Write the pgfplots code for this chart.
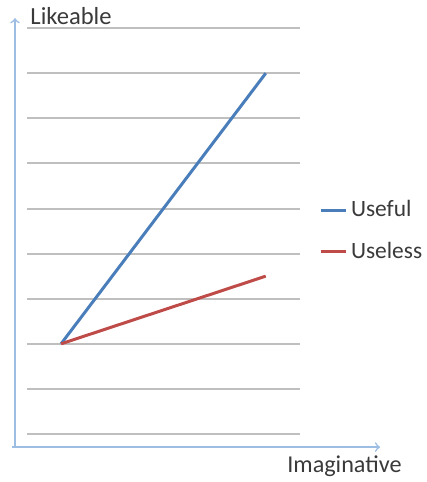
\documentclass[border=0pt]{standalone}
\usepackage{fontspec}
\setmainfont{Carlito}
\usepackage{pgfplots}
\pgfplotsset{compat=1.18}
\definecolor{exblue}{HTML}{4A7EBB}
\definecolor{exred}{HTML}{BE4B48}
\definecolor{axblue}{HTML}{9DBDE3}
\definecolor{txt}{HTML}{3A3A3A}
\begin{document}
\begin{tikzpicture}
  \begin{axis}[
    scale only axis,
    width=136.5pt, height=203pt,
    xmin=0, xmax=8, ymin=0, ymax=9,
    xtick=\empty, ytick={0,...,9}, yticklabels={},
    axis line style={draw=none}, tick style={draw=none},
    ymajorgrids, grid style={color=black!25, line width=1pt},
    clip=false,
    legend style={at={(axis cs:8.55,4.5)}, anchor=west, draw=none,
      font=\fontsize{11.7}{13}\selectfont\color{txt},
      row sep=7.2pt, inner sep=0pt, legend cell align=left},
    legend image code/.code={\draw[#1, line width=1.5pt] (0pt,0pt) -- (12.5pt,0pt);},
  ]
    \addplot[exblue, line width=1.5pt] coordinates {(1,2) (7,8)};
    \addlegendentry{Useful}
    \addplot[exred, line width=1.5pt] coordinates {(1,2) (7,3.5)};
    \addlegendentry{Useless}
    \draw[axblue, line width=0.8pt, ->] (axis cs:-0.35,-0.29) -- (axis cs:-0.35,9.22);
    \draw[axblue, line width=0.8pt, ->] (axis cs:-0.44,-0.29) -- (axis cs:10.35,-0.29);
    \node[anchor=west, inner sep=0pt, text=txt, font=\fontsize{12.3}{14}\selectfont] at (axis cs:0.09,9.27) {Likeable};
    \node[anchor=west, inner sep=0pt, text=txt, font=\fontsize{12.1}{14}\selectfont] at (axis cs:7.62,-0.71) {Imaginative};
    \coordinate (bl) at (axis cs:-0.79,-1.064);
    \coordinate (tr) at (axis cs:11.70,9.623);
  \end{axis}
  \path (bl) rectangle (tr);
\end{tikzpicture}
\end{document}
